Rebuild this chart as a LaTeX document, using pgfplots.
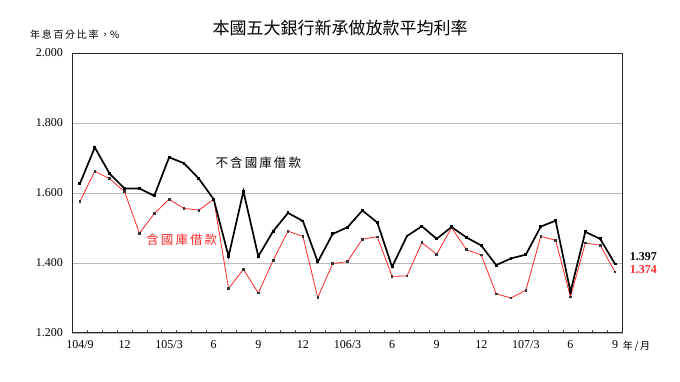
\documentclass[border=0pt]{standalone}
\usepackage{fontspec}
\setmainfont{Liberation Serif}
\newfontfamily\cjk{Noto Sans CJK TC}
\usepackage{pgfplots}
\pgfplotsset{compat=1.18}
\pgfplotstableread{
x black red
0 1.627 1.576
1 1.730 1.662
2 1.655 1.641
3 1.613 1.604
4 1.613 1.485
5 1.592 1.541
6 1.702 1.582
7 1.685 1.556
8 1.641 1.551
9 1.582 1.582
10 1.419 1.327
11 1.605 1.382
12 1.419 1.314
13 1.491 1.408
14 1.543 1.491
15 1.520 1.476
16 1.403 1.301
17 1.483 1.398
18 1.502 1.404
19 1.550 1.468
20 1.516 1.475
21 1.389 1.362
22 1.477 1.363
23 1.505 1.458
24 1.469 1.425
25 1.503 1.501
26 1.473 1.438
27 1.450 1.423
28 1.394 1.312
29 1.413 1.300
30 1.424 1.322
31 1.504 1.476
32 1.521 1.465
33 1.318 1.303
34 1.489 1.457
35 1.469 1.451
36 1.397 1.374
}\rates
\definecolor{redline}{RGB}{255,40,40}
\begin{document}
\begin{tikzpicture}
\path[use as bounding box] (-72.5pt,-49pt) rectangle (607.5pt,333pt);
\begin{axis}[
  at={(0,0)}, anchor=south west,
  scale only axis, width=550pt, height=280pt,
  xmin=-0.5, xmax=36.5, ymin=1.2, ymax=2.0,
  clip=false,
  axis line style={black!85, line width=1pt},
  xtick={0,3,...,36},
  xticklabels={104/9,12,105/3,6,9,12,106/3,6,9,12,107/3,6,9},
  minor xtick={0.5,1.5,...,35.5},
  xtick pos=bottom, ytick pos=left,
  tick align=inside,
  major tick length=0pt,
  minor tick length=3pt,
  minor tick style={black!70, line width=0.6pt},
  ytick={1.2,1.4,1.6,1.8,2.0},
  ymajorgrids,
  grid style={gray!55, line width=0.7pt},
  /pgf/number format/assume math mode=true,
  yticklabel style={/pgf/number format/.cd, fixed, fixed zerofill, precision=3, /tikz/.cd, font=\fontsize{12}{14}\selectfont, xshift=-6pt},
  xticklabel style={font=\fontsize{12}{14}\selectfont, yshift=-4pt},
]
\addplot[redline, line width=0.8pt, mark=square*, mark size=0.8pt, mark options={draw=black!80, fill=black!80}] table[x=x, y=red] {\rates};
\addplot[black, line width=1.7pt, mark=square*, mark size=0.6pt, mark options={draw=black, fill=black}] table[x=x, y=black] {\rates};
\node[font=\cjk\fontsize{12.5}{14}\selectfont] at (axis cs:12.0,1.686) {不\,含\,國\,庫\,借\,款};
\node[font=\cjk\fontsize{12.5}{14}\selectfont, text=redline] at (axis cs:6.85,1.466) {含\,國\,庫\,借\,款};
\node[font=\bfseries\fontsize{12}{14}\selectfont, anchor=west] at (axis cs:36.75,1.418) {1.397};
\node[font=\bfseries\fontsize{12}{14}\selectfont, anchor=west, text=redline] at (axis cs:36.75,1.381) {1.374};
\end{axis}
\node[font=\cjk\fontsize{17}{20}\selectfont] at (267.5pt,305pt) {本國五大銀行新承做放款平均利率};
\node[font=\cjk\fontsize{10}{11}\selectfont, anchor=west, inner sep=0pt] at (-42.5pt,298pt) {年\,息\,百\,分\,比\,率\,，\%};
\node[font=\cjk\fontsize{10}{12}\selectfont] at (564pt,-13.5pt) {年\,/\,月};
\end{tikzpicture}
\end{document}
